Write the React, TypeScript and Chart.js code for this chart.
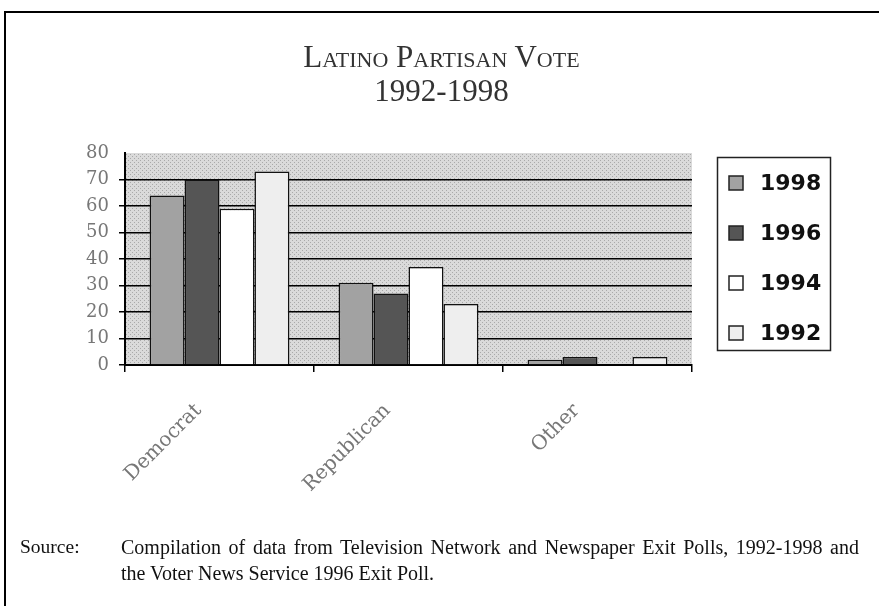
import React, { useEffect, useRef } from "react";
import { Chart, registerables } from "chart.js";

Chart.register(...registerables);

// ---- data ----
const categories = ["Democrat", "Republican", "Other"];
const seriesLabels = ["1998", "1996", "1994", "1992"];
const values1998 = [64, 31, 2];
const values1996 = [70, 27, 3];
const values1994 = [59, 37, 0];
const values1992 = [73, 23, 3];
const yTickValues = [0, 10, 20, 30, 40, 50, 60, 70, 80];
const seriesColors = ["#a2a2a2", "#555555", "#ffffff", "#eeeeee"];

const titleLine1 = "Latino Partisan Vote";
const titleLine2 = "1992-1998";
const sourceLabel = "Source:";
const sourceLine1 =
  "Compilation of data from Television Network and Newspaper Exit Polls, 1992-1998 and";
const sourceLine2 = "the Voter News Service 1996 Exit Poll.";

function makePattern(): CanvasPattern | string {
  const c = document.createElement("canvas");
  c.width = 4;
  c.height = 4;
  const g = c.getContext("2d");
  if (!g) return "#d2d2d2";
  g.fillStyle = "#dadada";
  g.fillRect(0, 0, 4, 4);
  g.fillStyle = "#a9a9a9";
  g.fillRect(0, 0, 1, 1);
  g.fillRect(2, 2, 1, 1);
  const p = g.createPattern(c, "repeat");
  return p || "#d2d2d2";
}

export default function App() {
  const ref = useRef<HTMLCanvasElement | null>(null);

  useEffect(() => {
    if (!ref.current) return;
    const pattern = makePattern();

    const bgPlugin = {
      id: "plotBg",
      beforeDraw(chart: any) {
        const { ctx, chartArea: a } = chart;
        ctx.save();
        ctx.fillStyle = pattern;
        ctx.fillRect(a.left, a.top, a.right - a.left, a.bottom - a.top);
        ctx.restore();
      },
    };

    const legendPlugin = {
      id: "boxLegend",
      afterDraw(chart: any) {
        const ctx = chart.ctx;
        const a = chart.chartArea;
        const bx = a.right + 25;
        const by = a.top + 4;
        const bw = 113;
        const bh = 193;
        ctx.save();
        ctx.fillStyle = "#ffffff";
        ctx.fillRect(bx, by, bw, bh);
        ctx.strokeStyle = "#222";
        ctx.lineWidth = 1.5;
        ctx.strokeRect(bx + 0.5, by + 0.5, bw, bh);
        chart.data.datasets.forEach((ds: any, i: number) => {
          const cy = by + 26 + i * 50;
          ctx.fillStyle = ds.backgroundColor;
          ctx.fillRect(bx + 12, cy - 7, 14, 14);
          ctx.strokeStyle = "#222";
          ctx.lineWidth = 1.5;
          ctx.strokeRect(bx + 12, cy - 7, 14, 14);
          ctx.fillStyle = "#111";
          ctx.font = "bold 22px 'DejaVu Sans'";
          ctx.textBaseline = "middle";
          ctx.textAlign = "left";
          ctx.fillText(ds.label, bx + 43, cy + 1);
        });
        ctx.restore();
      },
    };

    const seriesData = [values1998, values1996, values1994, values1992];

    const chart = new Chart(ref.current, {
      type: "bar",
      data: {
        labels: categories,
        datasets: seriesLabels.map((label, i) => ({
          label,
          data: seriesData[i],
          backgroundColor: seriesColors[i],
          borderColor: "#111",
          borderWidth: 1.5,
          categoryPercentage: 0.74,
          barPercentage: 1.0,
        })),
      },
      options: {
        animation: false,
        responsive: false,
        devicePixelRatio: 1,
        layout: { padding: { left: 62, right: 187, top: 153, bottom: 111 } },
        plugins: {
          legend: { display: false },
          title: { display: false },
          tooltip: { enabled: false },
        },
        scales: {
          x: {
            offset: true,
            afterFit: (s: any) => {
              s.height = 130;
            },
            grid: {
              offset: true,
              drawOnChartArea: false,
              drawTicks: true,
              tickLength: 7,
              color: "#000",
              lineWidth: 1.5,
            },
            border: { display: true, color: "#000", width: 2 },
            ticks: {
              minRotation: 45,
              maxRotation: 45,
              labelOffset: -21,
              padding: 27,
              color: "#777",
              font: { family: "'DejaVu Serif'", size: 20 },
            },
          },
          y: {
            min: 0,
            max: 80,
            afterFit: (s: any) => {
              s.width = 63;
            },
            afterBuildTicks: (s: any) => {
              s.ticks = yTickValues.map((v) => ({ value: v }));
            },
            grid: {
              color: (c: any) =>
                c.tick && c.tick.value === 80 ? "rgba(0,0,0,0)" : "#000",
              lineWidth: 1.5,
              drawTicks: true,
              tickLength: 6,
            },
            border: { display: true, color: "#000", width: 2 },
            ticks: {
              padding: 10,
              color: "#777",
              font: { family: "'DejaVu Serif'", size: 18 },
            },
          },
        },
      },
      plugins: [bgPlugin, legendPlugin],
    });
    return () => chart.destroy();
  }, []);

  return (
    <div
      style={{
        position: "absolute",
        left: 0,
        top: 0,
        width: 879,
        height: 606,
        overflow: "hidden",
        background: "#fff",
      }}
    >
      <canvas
        ref={ref}
        width={879}
        height={606}
        style={{ position: "absolute", left: 0, top: 0 }}
      />
      <div
        style={{
          position: "absolute",
          left: 4,
          top: 11,
          width: 900,
          height: 700,
          borderTop: "2px solid #000",
          borderLeft: "2px solid #000",
          pointerEvents: "none",
        }}
      />
      <div
        style={{
          position: "absolute",
          left: 0,
          width: 883,
          top: 41,
          textAlign: "center",
          fontFamily: "'Liberation Serif', serif",
          fontVariant: "small-caps",
          fontSize: 31,
          lineHeight: "32px",
          color: "#333",
        }}
      >
        {titleLine1}
      </div>
      <div
        style={{
          position: "absolute",
          left: 0,
          width: 883,
          top: 75,
          textAlign: "center",
          fontFamily: "'Liberation Serif', serif",
          fontSize: 31,
          lineHeight: "32px",
          color: "#333",
        }}
      >
        {titleLine2}
      </div>
      <div
        style={{
          position: "absolute",
          left: 20,
          top: 534,
          fontFamily: "'Liberation Serif', serif",
          fontSize: 19.5,
          lineHeight: "26px",
          color: "#111",
        }}
      >
        {sourceLabel}
      </div>
      <div
        style={{
          position: "absolute",
          left: 121,
          top: 534,
          width: 738,
          fontFamily: "'Liberation Serif', serif",
          fontSize: 20,
          lineHeight: "26px",
          color: "#111",
        }}
      >
        <div style={{ textAlign: "justify", textAlignLast: "justify" }}>
          {sourceLine1}
        </div>
        <div style={{ whiteSpace: "nowrap" }}>{sourceLine2}</div>
      </div>
    </div>
  );
}
